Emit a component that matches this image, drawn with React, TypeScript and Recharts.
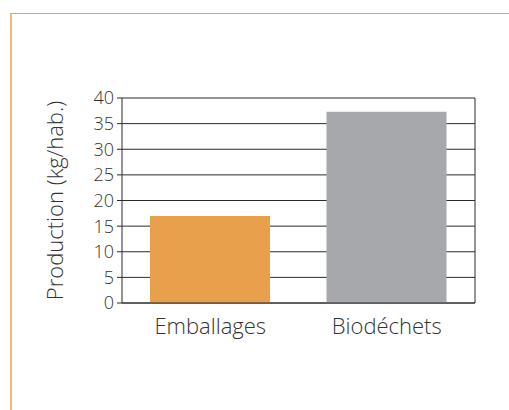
import { Bar, BarChart, CartesianGrid, Cell, XAxis, YAxis } from "recharts";

const categories = ["Emballages", "Biodéchets"];
const production = [17, 37.3];
const yTicks = [0, 5, 10, 15, 20, 25, 30, 35, 40];
const colors = ["#e8a04c", "#a7a8ab"];

const data = categories.map((name, i) => ({ name, value: production[i] }));
const font = "'Open Sans', sans-serif";

export default function App() {
  return (
    <div style={{ position: "absolute", left: 0, top: 0, width: 509, height: 410, background: "#fff" }}>
      <div style={{ position: "absolute", left: 10, top: 13, right: 0, bottom: 0, borderTop: "1px solid #e9a256", borderLeft: "2px solid #f4bb78" }} />
      <BarChart width={509} height={410} data={data} margin={{ top: 98, right: 34, left: 0, bottom: 0 }} barSize={120}>
        <CartesianGrid
          stroke="#2a2a2a"
          horizontal
          vertical
          verticalCoordinatesGenerator={({ offset }: any) => [offset.left + offset.width]}
        />
        <XAxis
          dataKey="name"
          height={107}
          tickLine={false}
          tickSize={0}
          tickMargin={15}
          axisLine={{ stroke: "#2a2a2a" }}
          tick={{ fill: "#333", fontSize: 22, fontFamily: font, fontWeight: 300 }}
        />
        <YAxis
          width={122}
          domain={[0, 40]}
          ticks={yTicks}
          interval={0}
          tickSize={5}
          tickMargin={3}
          axisLine={{ stroke: "#2a2a2a" }}
          tickLine={{ stroke: "#2a2a2a" }}
          tick={{ fill: "#333", fontSize: 18, fontFamily: font, fontWeight: 300 }}
          label={{ value: "Production (kg/hab.)", angle: -90, position: "center", dx: -6, fill: "#333", fontSize: 22, fontFamily: font, fontWeight: 300 }}
        />
        <Bar dataKey="value" isAnimationActive={false}>
          {data.map((_, i) => (
            <Cell key={i} fill={colors[i]} />
          ))}
        </Bar>
      </BarChart>
    </div>
  );
}
